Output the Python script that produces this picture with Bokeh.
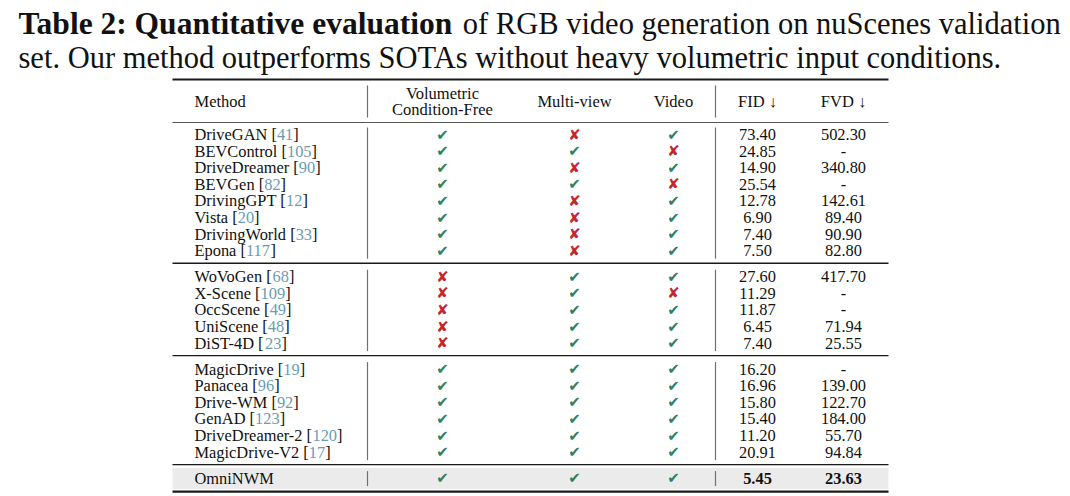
from bokeh.plotting import figure
from bokeh.models import Range1d
from bokeh.core.properties import value
from bokeh.embed import file_html
from bokeh.resources import INLINE

# ---------------- data ----------------
caption_bold = "Table 2: Quantitative evaluation"
caption_rest = "of RGB video generation on nuScenes validation"
caption_line2 = "set. Our method outperforms SOTAs without heavy volumetric input conditions."

headers = ["Method", "Volumetric\nCondition-Free", "Multi-view", "Video", "FID \u2193", "FVD \u2193"]

methods = ["DriveGAN", "BEVControl", "DriveDreamer", "BEVGen", "DrivingGPT", "Vista", "DrivingWorld", "Epona",
           "WoVoGen", "X-Scene", "OccScene", "UniScene", "DiST-4D",
           "MagicDrive", "Panacea", "Drive-WM", "GenAD", "DriveDreamer-2", "MagicDrive-V2",
           "OmniNWM"]
refs = ["41", "105", "90", "82", "12", "20", "33", "117",
        "68", "109", "49", "48", "23",
        "19", "96", "92", "123", "120", "17",
        ""]
groups = [0] * 8 + [1] * 5 + [2] * 6 + [3]
vol_free = [1, 1, 1, 1, 1, 1, 1, 1,
            0, 0, 0, 0, 0,
            1, 1, 1, 1, 1, 1,
            1]
multi_view = [0, 1, 0, 1, 0, 0, 0, 0,
              1, 1, 1, 1, 1,
              1, 1, 1, 1, 1, 1,
              1]
video = [1, 0, 1, 0, 1, 1, 1, 1,
         1, 0, 1, 1, 1,
         1, 1, 1, 1, 1, 1,
         1]
fid = [73.40, 24.85, 14.90, 25.54, 12.78, 6.90, 7.40, 7.50,
       27.60, 11.29, 11.87, 6.45, 7.40,
       16.20, 16.96, 15.80, 15.40, 11.20, 20.91,
       5.45]
fvd = [502.30, None, 340.80, None, 142.61, 89.40, 90.90, 82.80,
       417.70, None, None, 71.94, 25.55,
       None, 139.00, 122.70, 184.00, 55.70, 94.84,
       23.63]

# ---------------- font metrics (Times / Liberation Serif, 1/1000 em) ----------------
TR = {' ': 250, '[': 333, ']': 333, '-': 333, '.': 250, ':': 278,
      'A': 722, 'B': 667, 'C': 667, 'D': 722, 'E': 611, 'F': 556, 'G': 722, 'H': 722, 'I': 333, 'J': 389,
      'K': 722, 'L': 611, 'M': 889, 'N': 722, 'O': 722, 'P': 556, 'Q': 722, 'R': 667, 'S': 556, 'T': 611,
      'U': 722, 'V': 722, 'W': 944, 'X': 722, 'Y': 722, 'Z': 611,
      'a': 444, 'b': 500, 'c': 444, 'd': 500, 'e': 444, 'f': 333, 'g': 500, 'h': 500, 'i': 278, 'j': 278,
      'k': 500, 'l': 278, 'm': 778, 'n': 500, 'o': 500, 'p': 500, 'q': 500, 'r': 333, 's': 389, 't': 278,
      'u': 500, 'v': 500, 'w': 722, 'x': 500, 'y': 500, 'z': 444}
TB = {' ': 250, ':': 333, '2': 500, 'T': 667, 'Q': 778, 'a': 500, 'b': 556, 'l': 278, 'e': 444, 'u': 556,
      'n': 556, 't': 333, 'i': 278, 'v': 500, 'o': 500}
KERN = {('W', 'o'): -80, ('V', 'o'): -80, ('V', 'i'): -60}


def tw(s, size, bold=False):
    m = TB if bold else TR
    w = sum(m.get(c, 500) for c in s)
    if not bold:
        w += sum(KERN.get((a, b), 0) for a, b in zip(s, s[1:]))
    return w * size / 1000.0


SERIF = value("Liberation Serif")
INK = "#111111"

# ---------------- layout ----------------
W, H = 1068, 494
p = figure(width=W, height=H, x_range=Range1d(0, W), y_range=Range1d(H, 0),
           output_backend="svg", toolbar_location=None, min_border=0,
           x_axis_location=None, y_axis_location=None)
p.xgrid.visible = False
p.ygrid.visible = False
p.outline_line_color = None
p.background_fill_color = "white"
p.border_fill_color = "white"

# caption
cap_x, cap_bold_fs, cap_fs = 18, 31.5, 30.5
p.text(x=[cap_x], y=[23], text=[caption_bold], text_font=SERIF, text_font_size=f"{cap_bold_fs}px",
       text_font_style="bold", text_baseline="middle", text_color=INK)
p.text(x=[cap_x + tw(caption_bold, cap_bold_fs, True) + tw(" ", cap_fs)], y=[23], text=[caption_rest],
       text_font=SERIF, text_font_size=f"{cap_fs}px", text_baseline="middle", text_color=INK)
p.text(x=[cap_x], y=[57], text=[caption_line2], text_font=SERIF, text_font_size=f"{cap_fs}px",
       text_baseline="middle", text_color=INK)

# table geometry
TL, TRX = 172, 888
col_method = 194
col_c = [442, 574, 673, 757, 843]
vlines = [367, 715]
top_rule = 79
head_y = 101
head_rule = 122
step = 16.6
row_fs = 16.4
head_fs = 16.5

# row y positions from group index
row_y = []
rules = []
spans = []
y = head_rule + 12
prev_g = groups[0]
g_start = y
for g in groups:
    if g != prev_g:
        last = row_y[-1]
        spans.append((g_start, last))
        r = last + 12.5
        rules.append(r)
        y = r + 13.5
        g_start = y
        prev_g = g
    row_y.append(y)
    y += step
spans.append((g_start, row_y[-1]))
bottom_rule = row_y[-1] + 13.5

# highlight band for last row
p.quad(left=[TL], right=[TRX], bottom=[rules[-1] + 3.5], top=[bottom_rule - 2.5],
       fill_color="#ebebeb", line_color=None)

# horizontal rules
p.segment(x0=[TL], x1=[TRX], y0=[top_rule], y1=[top_rule], line_color="#1a1a1a", line_width=2.2)
p.segment(x0=[TL], x1=[TRX], y0=[head_rule], y1=[head_rule], line_color="#555555", line_width=1.1)
p.segment(x0=[TL] * len(rules), x1=[TRX] * len(rules), y0=rules, y1=rules, line_color="#1a1a1a", line_width=1.4)
p.segment(x0=[TL], x1=[TRX], y0=[bottom_rule], y1=[bottom_rule], line_color="#1a1a1a", line_width=2.4)

# vertical separators
vx0, vy0, vy1 = [], [], []
for vx in vlines:
    vx0.append(vx); vy0.append(head_y - 16); vy1.append(head_y + 16)
    for (a, b) in spans:
        vx0.append(vx); vy0.append(a - 7); vy1.append(b + 8)
p.segment(x0=vx0, x1=vx0, y0=vy0, y1=vy1, line_color="#707070", line_width=1.2)

# header
p.text(x=[col_method], y=[head_y], text=[headers[0]], text_font=SERIF, text_font_size=f"{head_fs}px",
       text_baseline="middle", text_color=INK)
h1a, h1b = headers[1].split("\n")
p.text(x=[col_c[0], col_c[0]], y=[head_y - 8, head_y + 8], text=[h1a, h1b], text_font=SERIF,
       text_font_size=f"{head_fs}px", text_align="center", text_baseline="middle", text_color=INK)
p.text(x=col_c[1:], y=[head_y] * 4, text=headers[2:], text_font=SERIF, text_font_size=f"{head_fs}px",
       text_align="center", text_baseline="middle", text_color=INK)

# method names with coloured references
name_txt, ref_x, ref_txt, close_x = [], [], [], []
for m, r in zip(methods, refs):
    if r:
        lead = m + " ["
        name_txt.append(lead)
        ref_x.append(col_method + tw(lead, row_fs))
        ref_txt.append(r)
        close_x.append(col_method + tw(lead + r, row_fs))
    else:
        name_txt.append(m)
        ref_x.append(col_method)
        ref_txt.append("")
        close_x.append(col_method)
close_txt = ["]" if r else "" for r in refs]

p.text(x=[col_method] * len(methods), y=row_y, text=name_txt, text_font=SERIF, text_font_size=f"{row_fs}px",
       text_baseline="middle", text_color=INK)
p.text(x=ref_x, y=row_y, text=ref_txt, text_font=SERIF, text_font_size=f"{row_fs}px",
       text_baseline="middle", text_color="#6b9bb3")
p.text(x=close_x, y=row_y, text=close_txt, text_font=SERIF, text_font_size=f"{row_fs}px",
       text_baseline="middle", text_color=INK)

# check / cross marks
mk_x, mk_y, mk_t, mk_c = [], [], [], []
for j, col in enumerate([vol_free, multi_view, video]):
    for i, v in enumerate(col):
        mk_x.append(col_c[j])
        mk_y.append(row_y[i])
        mk_t.append("\u2714" if v else "\u2718")
        mk_c.append("#2f8060" if v else "#c0282d")
p.text(x=mk_x, y=mk_y, text=mk_t, text_color=mk_c, text_font=value("DejaVu Sans"), text_font_size="15px",
       text_align="center", text_baseline="middle")

# numeric columns
n = len(methods)
fid_t = ["%.2f" % v for v in fid]
fvd_t = ["-" if v is None else "%.2f" % v for v in fvd]
p.text(x=[col_c[3]] * (n - 1), y=row_y[:-1], text=fid_t[:-1], text_font=SERIF, text_font_size=f"{row_fs}px",
       text_align="center", text_baseline="middle", text_color=INK)
p.text(x=[col_c[4]] * (n - 1), y=row_y[:-1], text=fvd_t[:-1], text_font=SERIF, text_font_size=f"{row_fs}px",
       text_align="center", text_baseline="middle", text_color=INK)
p.text(x=[col_c[3], col_c[4]], y=[row_y[-1]] * 2, text=[fid_t[-1], fvd_t[-1]], text_font=SERIF,
       text_font_size=f"{row_fs}px", text_font_style="bold", text_align="center", text_baseline="middle",
       text_color=INK)

open("out.html", "w").write(file_html(p, INLINE))
